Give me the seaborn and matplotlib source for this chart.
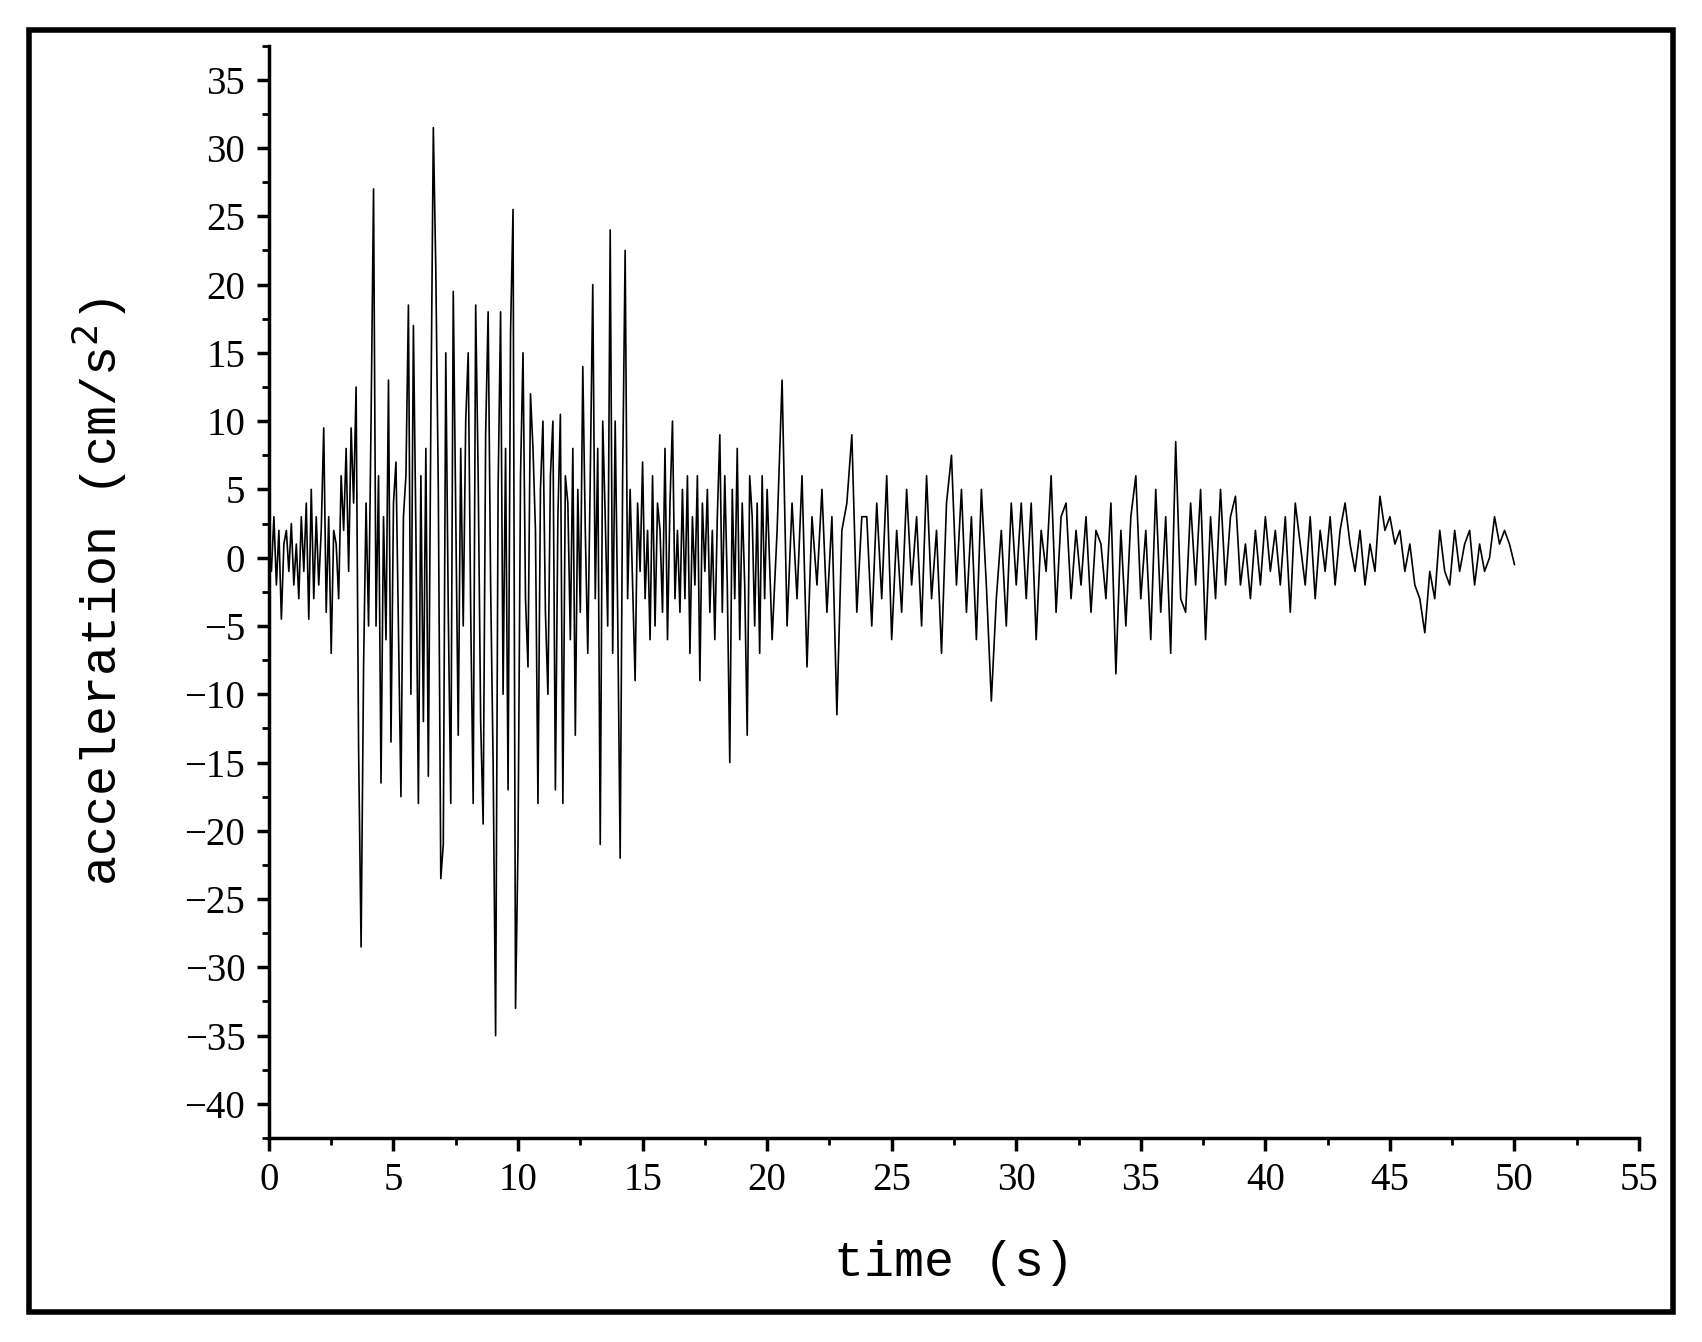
import numpy as np
import matplotlib
matplotlib.use("Agg")
import matplotlib.pyplot as plt
import seaborn as sns
import pandas as pd
from matplotlib.patches import Rectangle

# acceleration samples, 0.1 s step for 0-20 s
acc_a = [
 1, -1, 3, -2, 2, -4.5, 1, 2, -1, 2.5,   # 0
 -2, 1, -3, 3, -1, 4, -4.5, 5, -3, 3,     # 1
 -2, 2, 9.5, -4, 3, -7, 2, 1, -3, 6,      # 2
 2, 8, -1, 9.5, 4, 12.5, -14, -28.5, -8, 4,  # 3
 -5, 10, 27, -5, 6, -16.5, 3, -6, 13, -13.5, # 4
 4, 7, -5, -17.5, 3, 6, 18.5, -10, 17, 2,    # 5
 -18, 6, -12, 8, -16, 10, 31.5, 21, 5, -23.5, # 6
 -21, 15, -4, -18, 19.5, 3, -13, 8, -5, 10,  # 7
 15, -4, -18, 18.5, 6, -12, -19.5, 9, 18, -2, # 8
 -15, -35, 5, 18, -10, 8, -17, 16.5, 25.5, -33, # 9
 -21, 6, 15, -3, -8, 12, 8, 2, -18, 5,      # 10
 10, -4, -10, 6, 10, -17, 3, 10.5, -18, 6,  # 11
 4, -6, 8, -13, 5, -4, 14, 2, -7, 6,        # 12
 20, -3, 8, -21, 10, 3, -5, 24, -7, 10,     # 13
 -4, -22, 6, 22.5, -3, 5, -2, -9, 4, -1,    # 14
 7, -3, 2, -6, 6, -5, 4, 2, -4, 8,          # 15
 -6, 4, 10, -3, 2, -4, 5, -3, 6, -7,        # 16
 3, -2, 6, -9, 4, -1, 5, -4, 2, -6,         # 17
 3, 9, -4, 6, -2, -15, 5, -3, 8, -6,        # 18
 4, -2, -13, 6, 3, -5, 4, -7, 6, -3,        # 19
]
# 0.2 s step for 20-50 s
acc_b = [
 5, -6, 2, 13, -5, 4, -3, 6, -8, 3,         # 20-22
 -2, 5, -4, 3, -11.5, 2, 4, 9, -4, 3,       # 22-24
 3, -5, 4, -3, 6, -6, 2, -4, 5, -2,         # 24-26
 3, -5, 6, -3, 2, -7, 4, 7.5, -2, 5,        # 26-28
 -4, 3, -6, 5, -2, -10.5, -3, 2, -5, 4,     # 28-30
 -2, 4, -3, 4, -6, 2, -1, 6, -4, 3,         # 30-32
 4, -3, 2, -2, 3, -4, 2, 1, -3, 4,          # 32-34
 -8.5, 2, -5, 3, 6, -3, 2, -6, 5, -4,       # 34-36
 3, -7, 8.5, -3, -4, 4, -2, 5, -6, 3,       # 36-38
 -3, 5, -2, 3, 4.5, -2, 1, -3, 2, -2,       # 38-40
 3, -1, 2, -2, 3, -4, 4, 1, -2, 3,          # 40-42
 -3, 2, -1, 3, -2, 2, 4, 1, -1, 2,          # 42-44
 -2, 1, -1, 4.5, 2, 3, 1, 2, -1, 1,         # 44-46
 -2, -3, -5.5, -1, -3, 2, -1, -2, 2, -1,    # 46-48
 1, 2, -2, 1, -1, 0, 3, 1, 2, 1, -0.5,      # 48-50
]
t_a = np.round(np.arange(len(acc_a)) * 0.1, 2)
t_b = np.linspace(20.0, 50.0, len(acc_b))
df = pd.DataFrame({"t": np.concatenate([t_a, t_b]), "a": np.array(acc_a + acc_b, float)})

plt.rcParams['font.family'] = ['Liberation Serif', 'DejaVu Serif']
fig = plt.figure(figsize=(17.02, 13.42), dpi=100)
ax = fig.add_axes([0.158, 0.152, 0.805, 0.814])
sns.lineplot(data=df, x="t", y="a", ax=ax, color="black", linewidth=1.2, estimator=None, sort=False)
ax.set_xlim(0, 55)
ax.set_ylim(-42.5, 37.5)
ax.set_xticks(np.arange(0, 56, 5))
ax.set_yticks(np.arange(-40, 36, 5))
ax.set_xticks(np.arange(0, 55, 2.5), minor=True)
ax.set_yticks(np.arange(-42.5, 37.6, 2.5), minor=True)
ax.set_yticklabels([f"{v}".replace("-", "\u2212") for v in range(-40, 36, 5)])
for s in ["top", "right"]:
    ax.spines[s].set_visible(False)
for s in ["left", "bottom"]:
    ax.spines[s].set_linewidth(2.5)
ax.tick_params(which="major", direction="out", length=9, width=2.5, labelsize=28, pad=8)
ax.tick_params(which="minor", direction="out", length=5, width=2)
ax.set_xlabel("time (s)", fontsize=36, family=['Liberation Mono', 'DejaVu Sans Mono'], labelpad=30)
ax.set_ylabel("acceleration (cm/s$^2$)", fontsize=36, family=['Liberation Mono', 'DejaVu Sans Mono'], labelpad=40)
fig.patches.append(Rectangle((0.017, 0.022), 0.966, 0.956, transform=fig.transFigure,
                             fill=False, edgecolor="black", linewidth=4))
fig.savefig("out.png", dpi=100)
